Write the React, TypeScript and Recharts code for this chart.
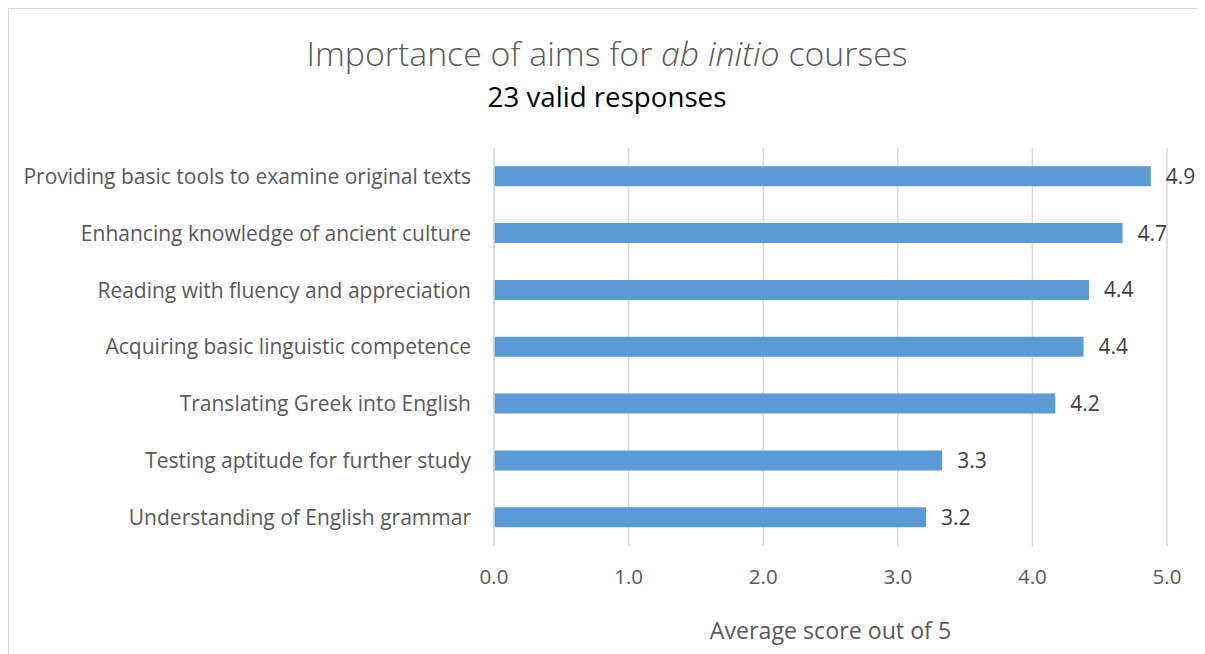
import { Bar, BarChart, CartesianGrid, LabelList, XAxis, YAxis } from "recharts";

const aims = [
  "Providing basic tools to examine original texts",
  "Enhancing knowledge of ancient culture",
  "Reading with fluency and appreciation",
  "Acquiring basic linguistic competence",
  "Translating Greek into English",
  "Testing aptitude for further study",
  "Understanding of English grammar",
];
const scores = [4.88, 4.67, 4.42, 4.38, 4.17, 3.33, 3.21];
const xTicks = [0, 1, 2, 3, 4, 5];

const FONT = "'Open Sans', 'Noto Sans', sans-serif";

export default function App() {
  const data = aims.map((aim, i) => ({ aim, score: scores[i] }));

  return (
    <div
      style={{
        position: "relative",
        width: 1197,
        height: 646,
        borderLeft: "1px solid #d9d9d9",
        borderTop: "1px solid #d9d9d9",
        boxSizing: "border-box",
        fontFamily: FONT,
      }}
    >
      <div
        style={{
          position: "absolute",
          left: 0,
          right: 0,
          top: 24,
          textAlign: "center",
          fontSize: 33.8,
          fontWeight: 300,
          color: "#595959",
          lineHeight: "40px",
        }}
      >
        Importance of aims for <i>ab initio</i> courses
      </div>
      <div
        style={{
          position: "absolute",
          left: 0,
          right: 0,
          top: 70,
          textAlign: "center",
          fontSize: 27.7,
          color: "#000",
          lineHeight: "34px",
        }}
      >
        23 valid responses
      </div>
      <BarChart
        width={1196}
        height={645}
        data={data}
        layout="vertical"
        margin={{ top: 139, right: 38, left: 0, bottom: 15 }}
        barCategoryGap="32%"
        style={{ position: "absolute", left: 0, top: 0 }}
      >
        <CartesianGrid horizontal={false} stroke="#d9d9d9" strokeWidth={1.5} />
        <XAxis
          type="number"
          domain={[0, 5]}
          ticks={xTicks}
          tickFormatter={(v: number) => v.toFixed(1)}
          axisLine={false}
          tickLine={false}
          tickSize={0}
          tickMargin={23}
          height={93}
          tick={{ fill: "#595959", fontSize: 20.5, fontFamily: FONT }}
          label={{
            value: "Average score out of 5",
            position: "insideBottom",
            offset: 0,
            fill: "#595959",
            fontSize: 23.2,
            fontFamily: FONT,
          }}
        />
        <YAxis
          type="category"
          dataKey="aim"
          width={485}
          axisLine={{ stroke: "#d9d9d9", strokeWidth: 1.5 }}
          tickLine={false}
          tickSize={0}
          tickMargin={23}
          tick={{ fill: "#595959", fontSize: 21, fontFamily: FONT }}
          interval={0}
        />
        <Bar dataKey="score" fill="#5b9bd5" isAnimationActive={false}>
          <LabelList
            dataKey="score"
            position="right"
            offset={15}
            formatter={(v: number) => v.toFixed(1)}
            fill="#404040"
            fontSize={21}
            fontFamily={FONT}
          />
        </Bar>
      </BarChart>
    </div>
  );
}
